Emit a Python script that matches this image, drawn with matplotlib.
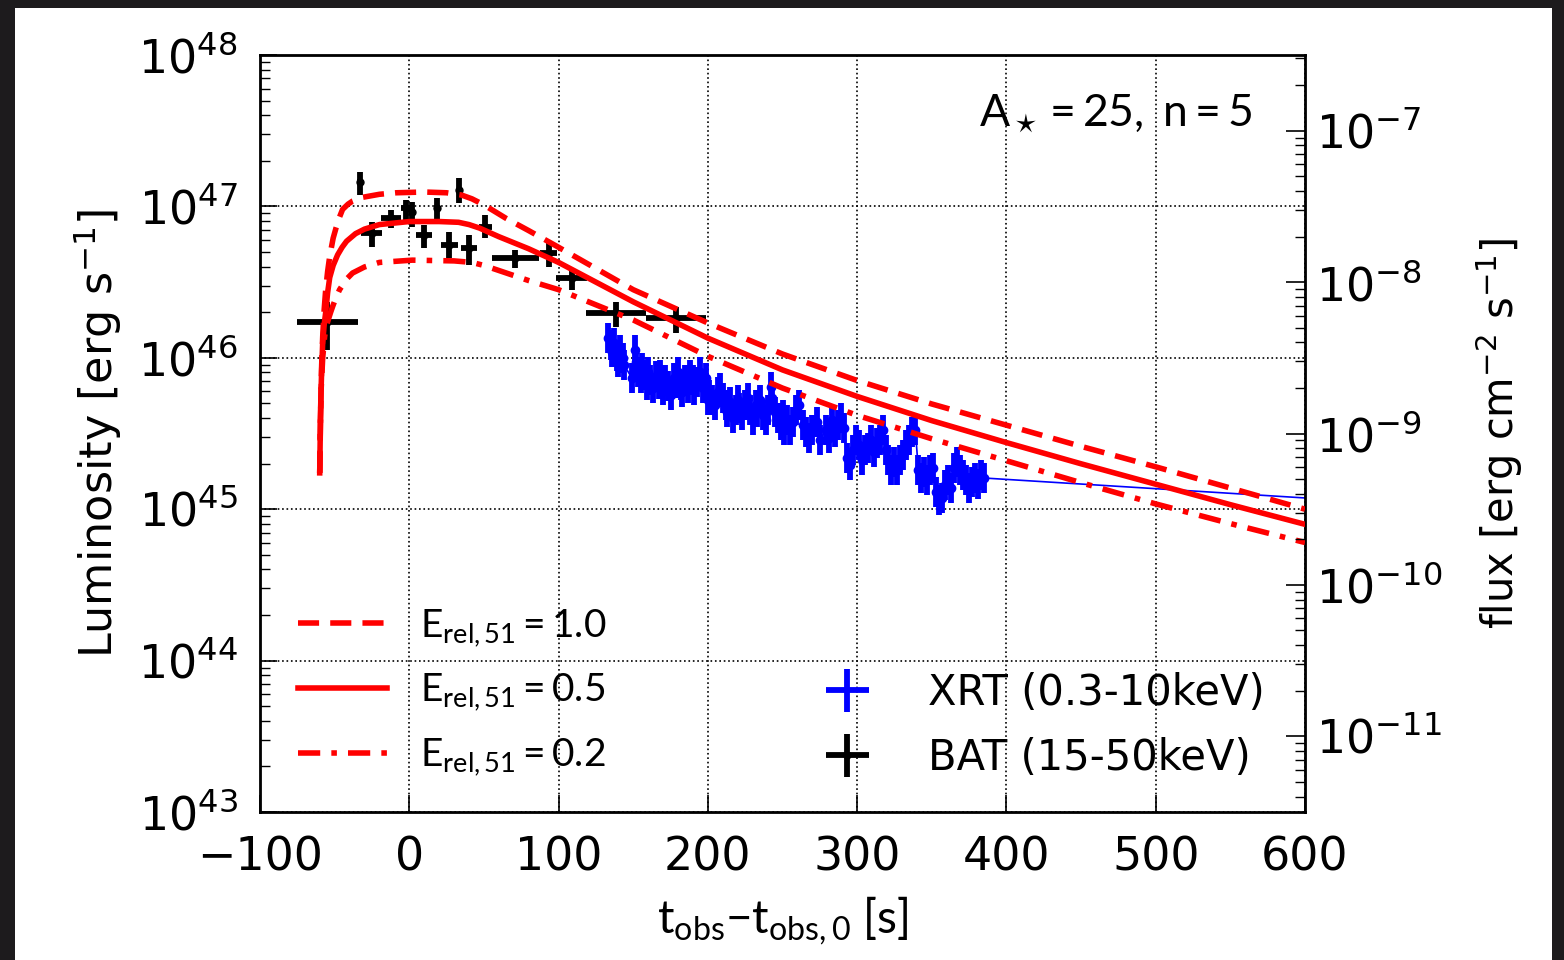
import numpy as np
import matplotlib
matplotlib.use('Agg')
import matplotlib.pyplot as plt
from matplotlib.font_manager import FontProperties
from matplotlib.legend_handler import HandlerErrorbar
from matplotlib.container import ErrorbarContainer
from matplotlib.patches import Rectangle

plt.rcParams['font.family'] = 'DejaVu Sans'
plt.rcParams['mathtext.fontset'] = 'dejavusans'
plt.rcParams['mathtext.rm'] = 'Lato'
plt.rcParams['mathtext.it'] = 'Lato:italic'
plt.rcParams['mathtext.bf'] = 'Lato:bold'
plt.rcParams['mathtext.sf'] = 'Lato'

# model light curves (log10 L)
t_e10 = [-60, -59.6, -59.3, -58.7, -58, -57, -56, -54.7, -53.3, -51, -49, -46.7, -44.7, -41, -38,
         -31.3, -20, -8.7, 10, 25, 35, 42, 50, 65, 80, 100, 125, 150, 175, 200, 250, 300, 350, 400,
         450, 500, 550, 600]
logL_e10 = [45.24, 45.5, 45.7, 45.95, 46.14, 46.32, 46.45, 46.57, 46.67, 46.79, 46.86, 46.93, 46.98,
            47.015, 47.035, 47.06, 47.08, 47.09, 47.095, 47.09, 47.075, 47.05, 47.01, 46.92, 46.84,
            46.73, 46.59, 46.45, 46.34, 46.23, 46.025, 45.85, 45.695, 45.555, 45.415, 45.28, 45.14,
            45.0]

t_e05 = [-60, -59.7, -59.5, -59.1, -58.7, -58, -57, -56, -54.7, -53.3, -51, -48, -45, -42, -36, -30,
         -20, 0, 20, 33, 40, 47, 60, 80, 100, 125, 150, 175, 200, 250, 300, 350, 400, 450, 500, 550,
         600]
logL_e05 = [45.24, 45.45, 45.6, 45.78, 45.92, 46.1, 46.22, 46.3, 46.43, 46.53, 46.61, 46.68, 46.73,
            46.77, 46.82, 46.85, 46.88, 46.9, 46.9, 46.895, 46.88, 46.857, 46.8, 46.72, 46.63, 46.5,
            46.37, 46.25, 46.13, 45.92, 45.745, 45.585, 45.44, 45.3, 45.165, 45.03, 44.9]

t_e02 = [-60, -59.6, -59, -58, -56.7, -55.5, -54, -52.7, -51.3, -49, -46.7, -42, -38, -30, -20, 2,
         30, 42, 50, 65, 80, 100, 125, 150, 175, 200, 250, 300, 350, 400, 450, 500, 550, 600]
logL_e02 = [45.24, 45.55, 45.8, 46.0, 46.14, 46.21, 46.26, 46.30, 46.34, 46.4, 46.45, 46.52, 46.56,
            46.6, 46.63, 46.645, 46.64, 46.63, 46.61, 46.56, 46.51, 46.45, 46.35, 46.25, 46.13, 46.01,
            45.8, 45.62, 45.465, 45.32, 45.175, 45.035, 44.905, 44.78]

# BAT (15-50 keV)
bat_t = [-55, -33.3, -25.3, -12, -2, 2, 10, 18.7, 26.7, 33.3, 40, 51, 71, 93.3, 108.7, 138.7, 178.7]
bat_terr = [20.5, 1.5, 7, 6.7, 3.3, 2, 5.3, 2, 5.6, 1.5, 5.5, 4.4, 15.6, 5.6, 10.6, 20, 20]
bat_logL = [46.236, 47.161, 46.824, 46.923, 46.99, 46.963, 46.81, 46.99, 46.745, 47.108, 46.725,
            46.864, 46.659, 46.692, 46.527, 46.296, 46.263]
bat_hi = [46.368, 47.227, 46.897, 46.976, 47.042, 47.029, 46.877, 47.055, 46.831, 47.188, 46.811,
          46.943, 46.712, 46.765, 46.593, 46.368, 46.335]
bat_lo = [46.05, 47.075, 46.732, 46.857, 46.91, 46.864, 46.725, 46.91, 46.659, 47.022, 46.613,
          46.791, 46.593, 46.6, 46.448, 46.203, 46.163]

# XRT (0.3-10 keV)
xrt_t = [133, 135, 136, 137, 139, 140, 141, 143, 144, 149, 151, 152, 153, 155, 156, 157, 159, 160,
         161, 163, 165, 167, 168, 170, 171, 173, 175, 177, 179, 180, 182, 183, 185, 187, 188, 190,
         191, 193, 195, 197, 199, 200, 201, 203, 205, 207, 208, 210, 212, 213, 215, 217, 219, 220,
         221, 223, 225, 227, 228, 230, 232, 233, 235, 237, 239, 240, 242, 243, 245, 247, 249, 250,
         251, 253, 255, 257, 259, 261, 264, 266, 268, 270, 273, 275, 279, 281, 283, 285, 287, 289,
         291, 293, 295, 297, 299, 301, 303, 305, 307, 309, 311, 313, 315, 317, 319, 321, 323, 325,
         327, 329, 331, 333, 335, 337, 339, 341, 343, 345, 347, 349, 351, 353, 355, 357, 359, 361,
         363, 365, 367, 369, 371, 373, 375, 377, 379, 381, 383, 385, 700]
xrt_logL = [46.131, 46.085, 46.038, 46.098, 46.012, 45.972, 46.052, 45.999, 45.952, 45.867, 46.052,
            45.972, 45.906, 45.867, 45.933, 45.886, 45.82, 45.906, 45.853, 45.801, 45.88, 45.827,
            45.886, 45.787, 45.853, 45.814, 45.754, 45.867, 45.833, 45.906, 45.82, 45.774, 45.853,
            45.801, 45.886, 45.853, 45.787, 45.84, 45.906, 45.801, 45.867, 45.721, 45.754, 45.721,
            45.688, 45.774, 45.801, 45.735, 45.688, 45.642, 45.708, 45.602, 45.655, 45.721, 45.669,
            45.622, 45.688, 45.735, 45.655, 45.589, 45.688, 45.642, 45.721, 45.622, 45.589, 45.655,
            45.807, 45.735, 45.642, 45.602, 45.556, 45.622, 45.523, 45.589, 45.523, 45.576, 45.655,
            45.688, 45.556, 45.51, 45.47, 45.523, 45.576, 45.457, 45.523, 45.47, 45.589, 45.51,
            45.556, 45.602, 45.536, 45.338, 45.292, 45.391, 45.457, 45.424, 45.325, 45.391, 45.404,
            45.457, 45.378, 45.437, 45.457, 45.523, 45.391, 45.325, 45.259, 45.312, 45.259, 45.325,
            45.358, 45.424, 45.457, 45.51, 45.523, 45.259, 45.206, 45.246, 45.193, 45.259, 45.272,
            45.114, 45.061, 45.074, 45.16, 45.193, 45.14, 45.272, 45.312, 45.259, 45.226, 45.193,
            45.14, 45.18, 45.206, 45.167, 45.226, 45.206, 45.013]
xrt_err_dex = 0.1
xrt_terr = 1.0

lum_to_flux = 10 ** -54.5

fig = plt.figure(figsize=(15.64, 9.6), dpi=100)
fig.patch.set_facecolor('#1d1b1d')
fig.add_artist(Rectangle((15 / 1564, 0), 1537 / 1564, 952 / 960, transform=fig.transFigure,
                         facecolor='white', edgecolor='none', zorder=-5))
ax = fig.add_axes([260 / 1564, 1 - 812 / 960, 1045 / 1564, 757 / 960])

# XRT
xt = np.array(xrt_t)
xl = 10 ** np.array(xrt_logL)
ax.plot(xt, xl, '-', color='b', lw=1.2, zorder=2)
xrt_yerr = [xl - xl * 10 ** -xrt_err_dex, xl * 10 ** xrt_err_dex - xl]
eb_xrt = ax.errorbar(xt, xl, yerr=xrt_yerr, xerr=xrt_terr, fmt='none', ecolor='b',
                     elinewidth=4.2, capsize=0, zorder=2, label='XRT (0.3-10keV)')
ax.plot(xt, xl, 'o', color='b', ms=6, zorder=2)

# BAT
bl = 10 ** np.array(bat_logL)
bat_yerr = [bl - 10 ** np.array(bat_lo), 10 ** np.array(bat_hi) - bl]
eb_bat = ax.errorbar(bat_t, bl, yerr=bat_yerr, xerr=bat_terr, fmt='o', color='k', ms=5,
                     elinewidth=4.2, capsize=0, zorder=3, label='BAT (15-50keV)')

# models
l1, = ax.plot(t_e10, 10 ** np.array(logL_e10), color='red', lw=4, dashes=(3.8, 2.0), zorder=4,
              label=r'$\mathrm{E_{rel,51}=1.0}$')
l2, = ax.plot(t_e05, 10 ** np.array(logL_e05), color='red', lw=4, ls='-', zorder=4,
              label=r'$\mathrm{E_{rel,51}=0.5}$')
l3, = ax.plot(t_e02, 10 ** np.array(logL_e02), color='red', lw=4, dashes=(4.0, 2.0, 1.0, 2.0),
              zorder=4, label=r'$\mathrm{E_{rel,51}=0.2}$')

ax.set_yscale('log')
ax.set_xlim(-100, 600)
ax.set_ylim(1e43, 1e48)
ax.set_xticks([-100, 0, 100, 200, 300, 400, 500, 600])
ax.grid(True, which='major', ls=':', color='k', lw=1.2)
ax.tick_params(axis='both', which='major', direction='in', length=12, width=1.2, labelsize=33)
ax.tick_params(axis='y', which='minor', direction='in', length=7, width=1.0)
ax.tick_params(axis='x', pad=17)
ax.tick_params(axis='y', pad=16)
for sp in ax.spines.values():
    sp.set_linewidth(2)

ax.set_xlabel(r'$\mathrm{t_{obs}{-}t_{obs,0}}$ [s]', fontsize=33, math_fontfamily='custom',
              family='Lato', labelpad=10)
ax.set_ylabel(r'Luminosity [erg s$^{-1}$]', fontsize=32, labelpad=10)

ax2 = ax.twinx()
ax2.set_yscale('log')
ax2.set_ylim(1e43 * lum_to_flux, 1e48 * lum_to_flux)
ax2.tick_params(axis='y', which='major', direction='in', length=14, width=1.2, labelsize=33, pad=8)
ax2.tick_params(axis='y', which='minor', direction='in', length=7, width=1.0)
ax2.set_ylabel(r'flux [erg cm$^{-2}$ s$^{-1}$]', fontsize=30, labelpad=22)

ax.text(0.949, 0.95, r'$\mathrm{A_\star=25,\ n=5}$', transform=ax.transAxes, ha='right',
        va='top', fontsize=32, math_fontfamily='custom')

leg1 = ax.legend(handles=[l1, l2, l3], loc='upper left', bbox_to_anchor=(0.036, 0.27),
                 frameon=False, borderpad=0, borderaxespad=0, handlelength=2.3,
                 handletextpad=0.85, labelspacing=0.6,
                 prop=FontProperties(family='Lato', size=28, math_fontfamily='custom'))
ax.add_artist(leg1)
ax.legend(handles=[eb_xrt, eb_bat], loc='upper left', bbox_to_anchor=(0.536, 0.185),
          frameon=False, borderpad=0, borderaxespad=0, handlelength=1.3, handletextpad=1.3,
          labelspacing=0.55, prop=FontProperties(family='DejaVu Sans', size=30),
          handler_map={ErrorbarContainer: HandlerErrorbar(xerr_size=0.52, yerr_size=0.52)})

fig.savefig('out.png', dpi=100, facecolor=fig.get_facecolor())
